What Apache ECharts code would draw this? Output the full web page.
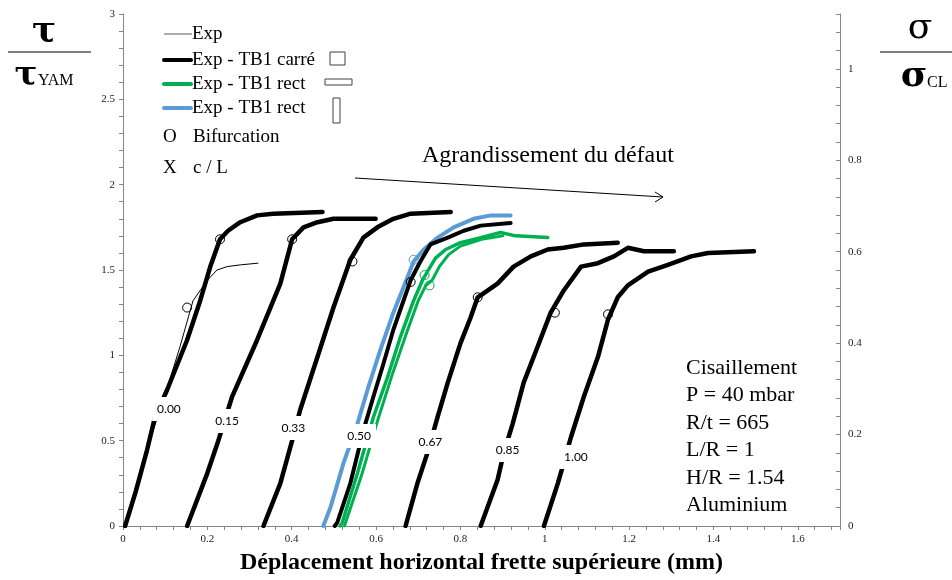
<!DOCTYPE html>
<html>
<head>
<meta charset="utf-8">
<script src="https://cdn.jsdelivr.net/npm/echarts@6/dist/echarts.min.js"></script>
<style>
html,body{margin:0;padding:0;background:#fff;}
#c{width:952px;height:580px;}
</style>
</head>
<body>
<div id="c"></div>
<script>
// ---- data (x: displacement mm, y: tau/tauYAM) ----
const expThin = [[0.003,0],[0.05,0.4],[0.105,0.81],[0.135,1.05],[0.166,1.32],[0.183,1.38],[0.2,1.44],[0.223,1.5],[0.247,1.52],[0.278,1.53],[0.32,1.54]];
const carre000 = [[0.005,0],[0.03,0.2],[0.057,0.445],[0.076,0.64],[0.105,0.8],[0.152,1.09],[0.183,1.32],[0.207,1.52],[0.23,1.68],[0.249,1.73],[0.278,1.78],[0.318,1.82],[0.356,1.83],[0.473,1.84]];
const carre015 = [[0.152,0],[0.2,0.31],[0.226,0.5],[0.259,0.76],[0.318,1.09],[0.373,1.42],[0.401,1.68],[0.428,1.75],[0.461,1.78],[0.499,1.8],[0.599,1.8]];
const carre033 = [[0.333,0],[0.373,0.25],[0.401,0.5],[0.42,0.68],[0.461,0.99],[0.499,1.28],[0.539,1.56],[0.57,1.69],[0.603,1.75],[0.641,1.8],[0.682,1.83],[0.777,1.84]];
const carre050 = [[0.502,0],[0.508,0.02],[0.539,0.25],[0.57,0.56],[0.594,0.76],[0.618,0.955],[0.641,1.15],[0.665,1.32],[0.682,1.44],[0.705,1.55],[0.729,1.65],[0.77,1.69],[0.808,1.73],[0.848,1.76],[0.919,1.775]];
const carre067 = [[0.67,0],[0.698,0.25],[0.722,0.43],[0.746,0.64],[0.77,0.84],[0.8,1.07],[0.824,1.22],[0.841,1.34],[0.865,1.38],[0.888,1.42],[0.926,1.52],[0.967,1.58],[1.007,1.62],[1.045,1.63],[1.093,1.65],[1.173,1.66]];
const carre085 = [[0.848,0],[0.888,0.27],[0.903,0.43],[0.924,0.6],[0.95,0.84],[0.983,1.05],[1.014,1.25],[1.045,1.38],[1.086,1.52],[1.126,1.54],[1.164,1.58],[1.197,1.63],[1.235,1.61],[1.306,1.61]];
const carre100 = [[0.998,0],[1.031,0.25],[1.045,0.37],[1.062,0.52],[1.093,0.76],[1.126,0.99],[1.15,1.21],[1.173,1.34],[1.197,1.41],[1.245,1.49],[1.292,1.53],[1.347,1.58],[1.387,1.6],[1.496,1.61]];
const rectBlue = [[0.475,0],[0.492,0.11],[0.523,0.37],[0.556,0.6],[0.58,0.8],[0.61,1.03],[0.641,1.25],[0.675,1.46],[0.689,1.55],[0.713,1.62],[0.746,1.69],[0.784,1.75],[0.831,1.8],[0.872,1.82],[0.919,1.82]];
const rectGreenA = [[0.515,0],[0.52,0.02],[0.556,0.31],[0.594,0.64],[0.627,0.87],[0.658,1.11],[0.689,1.32],[0.71,1.44],[0.724,1.5],[0.741,1.57],[0.765,1.62],[0.8,1.66],[0.848,1.69],[0.895,1.72],[0.931,1.7],[1.007,1.69]];
const rectGreenB = [[0.525,0],[0.566,0.3],[0.604,0.62],[0.64,0.9],[0.675,1.15],[0.7,1.32],[0.718,1.41],[0.733,1.44],[0.75,1.52],[0.772,1.59],[0.8,1.64],[0.85,1.68],[0.9,1.7]];
const bifBlack = [[0.23,1.68],[0.152,1.28],[0.401,1.68],[0.544,1.55],[0.682,1.43],[0.841,1.34],[1.024,1.25],[1.15,1.24]];
const bifBlue = [[0.689,1.56]];
const bifGreen = [[0.715,1.47],[0.727,1.41]];
const curveLabels = ['0.00','0.15','0.33','0.50','0.67','0.85','1.00'];
const curveLabelX = [0.109,0.247,0.404,0.560,0.729,0.912,1.074];
const curveLabelY = [0.686,0.615,0.574,0.527,0.492,0.445,0.404];

const SERIF = '"Liberation Serif","Times New Roman",serif';
const GREEKF = '"DejaVu Serif",serif';
const AX = '#868686';
const BLUE = '#5B9BD5';
const GREEN = '#00B050';

function multLabel(step){
  return function(v){
    const k = Math.round(v/step);
    if (Math.abs(v - k*step) < 1e-6) return String(+(k*step).toFixed(2));
    return '';
  };
}
function lineSeries(data, color, width, z){
  return {type:'line', data:data, symbol:'none', z:z||2, silent:true,
    lineStyle:{color:color, width:width, cap:'round', join:'round'}};
}
function circles(data, color){
  return {type:'scatter', data:data, symbol:'circle', symbolSize:9, z:6, silent:true,
    itemStyle:{color:'rgba(0,0,0,0)', borderColor:color, borderWidth:1, opacity:1}};
}

const chart = echarts.init(document.getElementById('c'), null, {renderer:'canvas'});
const labelData = curveLabels.map((t,i)=>[curveLabelX[i], curveLabelY[i], t]);

chart.setOption({
  animation:false,
  backgroundColor:'#fff',
  grid:{left:123, right:112, top:14, bottom:54, outerBoundsMode:'none', containLabel:false},
  xAxis:{type:'value', min:0, max:1.7, interval:0.04,
    name:'Déplacement horizontal frette supérieure (mm)', nameLocation:'middle', nameGap:25,
    nameTextStyle:{fontFamily:SERIF, fontSize:24, fontWeight:'bold', color:'#000'},
    axisLine:{lineStyle:{color:AX, width:1}},
    axisTick:{show:true, inside:false, length:4, lineStyle:{color:AX}},
    axisLabel:{formatter:multLabel(0.2), fontFamily:SERIF, fontSize:11, color:'#222', margin:8, showMaxLabel:true},
    splitLine:{show:false}},
  yAxis:[
    {type:'value', min:0, max:3, interval:0.1, position:'left',
     axisLine:{show:true, lineStyle:{color:AX}},
     axisTick:{show:true, inside:false, length:4, lineStyle:{color:AX}},
     axisLabel:{formatter:multLabel(0.5), fontFamily:SERIF, fontSize:11, color:'#222', margin:8},
     splitLine:{show:false}},
    {type:'value', min:0, max:1.12, interval:0.04, position:'right',
     axisLine:{show:true, lineStyle:{color:AX}},
     axisTick:{show:true, inside:true, length:4, lineStyle:{color:AX}},
     axisLabel:{formatter:multLabel(0.2), fontFamily:SERIF, fontSize:11, color:'#222', margin:8},
     splitLine:{show:false}}
  ],
  series:[
    lineSeries(carre000,'#000',4.5),
    lineSeries(carre015,'#000',4.5),
    lineSeries(carre033,'#000',4.5),
    lineSeries(carre067,'#000',4.5),
    lineSeries(carre085,'#000',4.5),
    lineSeries(carre100,'#000',4.5),
    lineSeries(rectBlue,BLUE,4,3),
    lineSeries(carre050,'#000',4,3),
    lineSeries(rectGreenB,GREEN,3,4),
    lineSeries(rectGreenA,GREEN,3.5,4),
    lineSeries(expThin,'#000',1,5),
    circles(bifBlack,'#000'),
    circles(bifBlue,BLUE),
    circles(bifGreen,GREEN),
    {type:'scatter', data:labelData, symbolSize:1, z:10, zlevel:1, silent:true,
     itemStyle:{color:'rgba(0,0,0,0)', opacity:1},
     label:{show:true, position:'inside', formatter:p=>p.data[2],
       fontFamily:'Lato, "Open Sans", sans-serif', fontSize:12, color:'#000',
       backgroundColor:'#ffffff', padding:[6,5,6,5]}}
  ],
  graphic:[
    // left axis title
    {type:'text', x:44, y:32, style:{text:'τ', font:'bold 36px '+GREEKF, fill:'#000', align:'center', verticalAlign:'middle'}},
    {type:'line', shape:{x1:8,y1:52,x2:91,y2:52}, style:{stroke:'#555', lineWidth:1.5}},
    {type:'text', x:26, y:76, style:{text:'τ', font:'bold 34px '+GREEKF, fill:'#000', align:'center', verticalAlign:'middle'}},
    {type:'text', x:38, y:81, style:{text:'YAM', font:'16px '+SERIF, fill:'#000', align:'left', verticalAlign:'middle'}},
    // right axis title
    {type:'text', x:920, y:29, style:{text:'σ', font:'36px '+GREEKF, fill:'#000', align:'center', verticalAlign:'middle'}},
    {type:'line', shape:{x1:880,y1:52,x2:952,y2:52}, style:{stroke:'#555', lineWidth:1.5}},
    {type:'text', x:914, y:77, style:{text:'σ', font:'bold 36px '+GREEKF, fill:'#000', align:'center', verticalAlign:'middle'}},
    {type:'text', x:927, y:83, style:{text:'CL', font:'16px '+SERIF, fill:'#000', align:'left', verticalAlign:'middle'}},
    // legend
    {type:'line', shape:{x1:164,y1:34,x2:192,y2:34}, style:{stroke:'#595959', lineWidth:1}},
    {type:'text', x:192, y:34, style:{text:'Exp', font:'19px '+SERIF, fill:'#000', verticalAlign:'middle'}},
    {type:'line', shape:{x1:164,y1:60,x2:191,y2:60}, style:{stroke:'#000', lineWidth:4, lineCap:'round'}},
    {type:'text', x:192, y:60, style:{text:'Exp - TB1 carré', font:'19px '+SERIF, fill:'#000', verticalAlign:'middle'}},
    {type:'rect', shape:{x:330,y:52,width:15,height:13}, style:{fill:'none', stroke:'#404040', lineWidth:1}},
    {type:'line', shape:{x1:164,y1:84,x2:191,y2:84}, style:{stroke:GREEN, lineWidth:4, lineCap:'round'}},
    {type:'text', x:192, y:84, style:{text:'Exp - TB1 rect', font:'19px '+SERIF, fill:'#000', verticalAlign:'middle'}},
    {type:'rect', shape:{x:325,y:79,width:27,height:6}, style:{fill:'none', stroke:'#404040', lineWidth:1}},
    {type:'line', shape:{x1:164,y1:108,x2:191,y2:108}, style:{stroke:BLUE, lineWidth:4, lineCap:'round'}},
    {type:'text', x:192, y:108, style:{text:'Exp - TB1 rect', font:'19px '+SERIF, fill:'#000', verticalAlign:'middle'}},
    {type:'rect', shape:{x:333,y:98,width:7,height:25}, style:{fill:'none', stroke:'#404040', lineWidth:1}},
    {type:'text', x:163, y:137, style:{text:'O', font:'19px '+SERIF, fill:'#000', verticalAlign:'middle'}},
    {type:'text', x:193, y:137, style:{text:'Bifurcation', font:'19px '+SERIF, fill:'#000', verticalAlign:'middle'}},
    {type:'text', x:163, y:168, style:{text:'X', font:'19px '+SERIF, fill:'#000', verticalAlign:'middle'}},
    {type:'text', x:193, y:168, style:{text:'c / L', font:'19px '+SERIF, fill:'#000', verticalAlign:'middle'}},
    // annotation
    {type:'text', x:422, y:156, style:{text:'Agrandissement du défaut', font:'24px '+SERIF, fill:'#000', verticalAlign:'middle'}},
    {type:'polyline', shape:{points:[[355,178],[663,197]]}, style:{stroke:'#000', lineWidth:1}},
    {type:'polyline', shape:{points:[[655,192],[663,197],[655,202]]}, style:{stroke:'#000', fill:'none', lineWidth:1}},
    // parameters block
    {type:'text', x:686, y:354, style:{text:'Cisaillement\nP = 40 mbar\nR/t = 665\nL/R = 1\nH/R = 1.54\nAluminium', font:'22px '+SERIF, lineHeight:27.5, fill:'#000', verticalAlign:'top'}}
  ]
});
</script>
</body>
</html>
